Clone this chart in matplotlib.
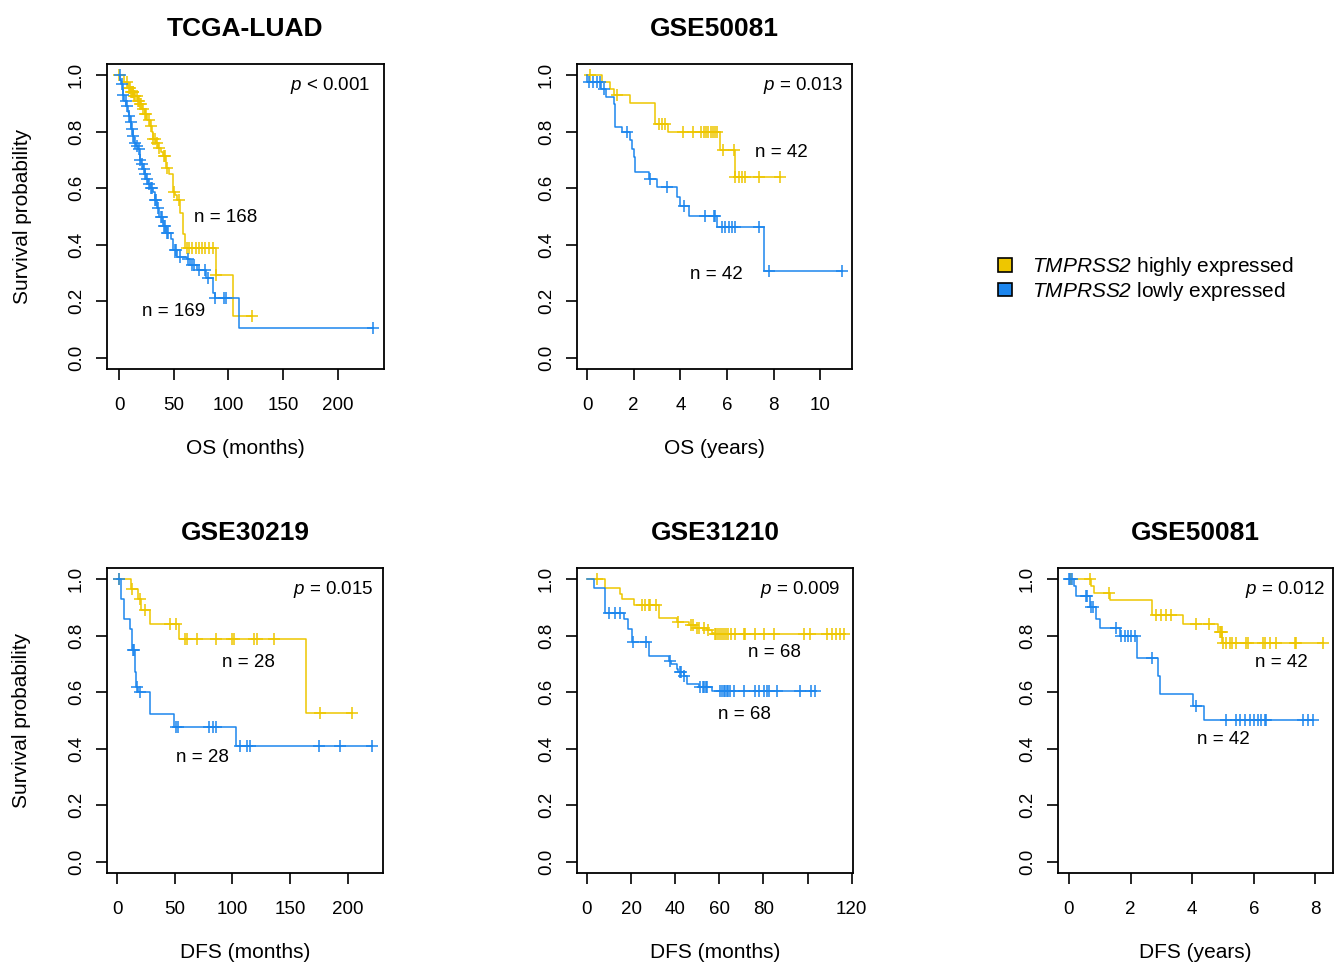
import numpy as np
import matplotlib.pyplot as plt
from matplotlib.patches import Patch

plt.rcParams["font.family"] = ["Liberation Sans", "DejaVu Sans"]
plt.rcParams["mathtext.fontset"] = "custom"
plt.rcParams["mathtext.it"] = "Liberation Sans:italic"
plt.rcParams["mathtext.rm"] = "Liberation Sans:italic"  # so the "2" in TMPRSS2 is italic too

HIGH = "#EEC600"
LOW = "#1C86EE"

# TCGA-LUAD, OS (months)
tcga_hi_t = [5, 8, 11, 14, 17, 19, 21, 23.5, 26, 28, 30, 31, 34, 36, 38, 40, 43, 46, 49, 51, 53,
             55.5, 58.5, 60, 88.4, 104]
tcga_hi_s = [0.975, 0.955, 0.94, 0.927, 0.91, 0.897, 0.88, 0.862, 0.84, 0.82, 0.80, 0.774, 0.76,
             0.744, 0.73, 0.715, 0.673, 0.65, 0.585, 0.575, 0.56, 0.514, 0.437, 0.39, 0.292, 0.149]
tcga_hi_c = [0, 7, 9, 10, 11, 12, 12.5, 13, 14, 15, 16, 17, 18, 19, 20, 22, 24, 25, 27, 29, 31.5,
             33, 35, 37, 41, 42, 44, 50, 55, 62, 64, 67, 70, 73, 76, 79, 82, 86, 89, 121.6]
tcga_lo_t = [1, 2, 3.7, 5, 6.7, 8, 9, 10, 11, 12.5, 14, 15.5, 17, 19, 20.5, 22, 23.5, 25, 26.5, 28,
             31, 32.6, 35, 37, 40, 43, 48, 49, 53, 62, 65, 71, 80, 86, 87.5, 110]
tcga_lo_s = [0.985, 0.97, 0.93, 0.91, 0.89, 0.87, 0.856, 0.835, 0.81, 0.785, 0.76, 0.75, 0.74, 0.70,
             0.685, 0.667, 0.65, 0.632, 0.615, 0.60, 0.585, 0.56, 0.53, 0.50, 0.467, 0.443, 0.42,
             0.38, 0.355, 0.35, 0.33, 0.31, 0.284, 0.23, 0.21, 0.106]
tcga_lo_c = [0.5, 2.5, 4, 6, 7.5, 9.5, 10.5, 12, 13, 15, 16, 18, 19.5, 21, 22.5, 24, 26, 27, 29, 30,
             33, 34, 36, 38, 39, 41, 42, 44, 45, 51, 52, 56, 63, 67, 69, 73, 79, 81, 88, 96, 98, 232]

# GSE50081, OS (years)
os50_hi_t = [0.64, 0.97, 1.14, 1.86, 2.9, 3.47, 5.71, 6.33]
os50_hi_s = [0.976, 0.953, 0.929, 0.902, 0.828, 0.80, 0.734, 0.641]
os50_hi_c = [0.14, 1.29, 3.07, 3.2, 3.36, 4.11, 4.54, 4.9, 5.0, 5.1, 5.2, 5.3, 5.4, 5.5, 5.57,
             5.81, 6.29, 6.36, 6.5, 6.64, 6.79, 7.36, 8.29]
os50_lo_t = [0.01, 0.61, 0.83, 1.14, 1.21, 1.5, 1.86, 1.93, 2.0, 2.07, 2.64, 3.0, 3.86, 4.0, 4.36,
             5.57, 7.6]
os50_lo_s = [0.976, 0.953, 0.924, 0.90, 0.817, 0.80, 0.77, 0.74, 0.71, 0.657, 0.633, 0.604, 0.568,
             0.538, 0.503, 0.462, 0.308]
os50_lo_c = [0.07, 0.26, 0.43, 0.57, 0.71, 1.71, 2.69, 3.43, 4.14, 5.07, 5.43, 5.5, 5.79, 5.93,
             6.07, 6.21, 6.36, 7.36, 7.81, 10.93]

# GSE30219, DFS (months)
g302_hi_t = [12, 18, 21, 28.3, 54, 164]
g302_hi_s = [0.964, 0.929, 0.89, 0.84, 0.789, 0.527]
g302_hi_c = [1.4, 13, 19.6, 24.6, 46, 51.4, 59, 61, 69, 86, 100, 101, 119, 121, 136, 176, 204]
g302_lo_t = [3.5, 6.4, 11.6, 13, 16, 16.8, 17.9, 28.3, 49.7, 103]
g302_lo_s = [0.931, 0.86, 0.825, 0.748, 0.671, 0.618, 0.60, 0.523, 0.476, 0.411]
g302_lo_c = [1.4, 13.5, 14.5, 17.3, 19.6, 51.4, 52.6, 80, 83, 86, 107, 113, 115.6, 175, 193, 221]

# GSE31210, DFS (months)
g312_hi_t = [8.3, 14.8, 15.9, 21.2, 32.5, 40.8, 46.1, 49, 54.4, 56.7, 57.4]
g312_hi_s = [0.969, 0.949, 0.931, 0.91, 0.863, 0.849, 0.837, 0.827, 0.819, 0.81, 0.805]
g312_hi_c = [4.5, 24.9, 26.5, 28, 28.7, 31.4, 41.1, 47, 48, 50, 51, 53, 54.9, 57.9, 58.5, 59.5,
             60.3, 61, 62, 63, 64, 65.5, 67, 71, 71.8, 76.3, 80.4, 85, 98.3, 101, 108.8, 111, 113,
             114.6, 116.4]
g312_lo_t = [3, 8.3, 17, 18.4, 20.4, 28, 37, 38, 40.8, 41.5, 43.8, 45.4, 50.6, 56.7]
g312_lo_s = [0.969, 0.882, 0.858, 0.825, 0.778, 0.73, 0.712, 0.70, 0.683, 0.671, 0.659, 0.63,
             0.618, 0.606]
g312_lo_c = [9.8, 12.8, 14.8, 20.9, 26.9, 37.5, 42, 42.8, 44, 51.4, 52.4, 53.2, 53.9, 54.4, 60.5,
             61.2, 62, 62.7, 63.4, 64, 65, 66.5, 71, 76.3, 77.9, 80.4, 81.6, 82.4, 86.2, 96.7,
             101.6, 103.6]

# GSE50081, DFS (years)
dfs50_hi_t = [0.73, 0.8, 1.32, 2.7, 3.7, 4.84, 4.98]
dfs50_hi_s = [0.976, 0.952, 0.928, 0.872, 0.843, 0.813, 0.774]
dfs50_hi_c = [0.08, 0.67, 1.3, 2.84, 3.0, 3.16, 3.32, 4.11, 4.55, 4.9, 4.93, 4.96, 5.0, 5.11, 5.22,
              5.3, 5.43, 5.76, 5.82, 6.3, 6.36, 6.54, 6.73, 7.33, 7.38, 8.25]
dfs50_lo_t = [0.15, 0.24, 0.67, 0.89, 1.02, 1.64, 2.21, 2.89, 2.94, 4.03, 4.37]
dfs50_lo_s = [0.976, 0.941, 0.902, 0.86, 0.827, 0.799, 0.721, 0.659, 0.594, 0.553, 0.503]
dfs50_lo_c = [0.0, 0.04, 0.09, 0.54, 0.57, 0.73, 0.78, 1.54, 1.70, 1.81, 1.92, 2.02, 2.13, 2.70,
              4.13, 5.09, 5.43, 5.54, 5.70, 5.87, 6.0, 6.13, 6.24, 6.35, 6.38, 7.6, 7.76, 7.92]

titles = ["TCGA-LUAD", "GSE50081", "GSE30219", "GSE31210", "GSE50081"]
xlabels = ["OS (months)", "OS (years)", "DFS (months)", "DFS (months)", "DFS (years)"]
pvals = ["< 0.001", "= 0.013", "= 0.015", "= 0.009", "= 0.012"]
n_hi = [168, 42, 28, 68, 42]
n_lo = [169, 42, 28, 68, 42]


def km(ax, t, s, cens, color):
    t = np.asarray(t, float)
    s = np.asarray(s, float)
    cens = np.asarray(cens, float)
    end = max(t.max(), cens.max())
    ax.step(np.r_[0, t, end], np.r_[1, s, s[-1]], where="post", color=color, lw=1.1)
    cy = np.r_[1, s][np.searchsorted(t, cens, side="right")]
    ax.plot(cens, cy, "+", color=color, ms=8, mew=1.1)


W, H = 1335, 969
fig = plt.figure(figsize=(W / 100, H / 100), dpi=100)

# (left, top, width, height) in pixels
boxes = [(107, 64, 277, 305), (577, 64, 275, 305), (107, 568, 276, 305),
         (577, 568, 276, 305), (1058, 568, 275, 305)]
xlims = [(-11, 242.4), (-0.43, 11.36), (-8.7, 230.6), (-4.5, 120.6), (-0.357, 8.57)]
xticks = [np.arange(0, 201, 50), np.arange(0, 11, 2), np.arange(0, 201, 50),
          np.arange(0, 121, 20), np.arange(0, 9, 2)]
hidden_tick = {3: 100}  # R drops the overlapping "100" label on GSE31210
p_inset = [14, 9, 10, 13, 8]  # px from the right edge of the box
series = [
    (tcga_hi_t, tcga_hi_s, tcga_hi_c, tcga_lo_t, tcga_lo_s, tcga_lo_c),
    (os50_hi_t, os50_hi_s, os50_hi_c, os50_lo_t, os50_lo_s, os50_lo_c),
    (g302_hi_t, g302_hi_s, g302_hi_c, g302_lo_t, g302_lo_s, g302_lo_c),
    (g312_hi_t, g312_hi_s, g312_hi_c, g312_lo_t, g312_lo_s, g312_lo_c),
    (dfs50_hi_t, dfs50_hi_s, dfs50_hi_c, dfs50_lo_t, dfs50_lo_s, dfs50_lo_c),
]
# label anchors (data coords) for the "n = " texts
n_hi_xy = [(97.5, 0.498), (8.33, 0.726), (114, 0.704), (85, 0.74), (6.88, 0.705)]
n_lo_xy = [(50, 0.165), (5.54, 0.293), (74, 0.368), (71.4, 0.52), (5.0, 0.432)]

for i in range(5):
    l, t, w, h = boxes[i]
    ax = fig.add_axes([l / W, 1 - (t + h) / H, w / W, h / H])
    hi_t, hi_s, hi_c, lo_t, lo_s, lo_c = series[i]
    km(ax, hi_t, hi_s, hi_c, HIGH)
    km(ax, lo_t, lo_s, lo_c, LOW)
    ax.set_xlim(*xlims[i])
    ax.set_ylim(-0.04, 1.04)
    ax.set_xticks(xticks[i])
    ax.set_xticklabels(["" if hidden_tick.get(i) == v else str(v) for v in xticks[i]])
    ax.set_yticks(np.linspace(0, 1, 6))
    ax.set_yticklabels([f"{v:.1f}" for v in np.linspace(0, 1, 6)], rotation=90, va="center")
    ax.tick_params(length=8, width=1.2, labelsize=13.5)
    ax.tick_params(axis="x", pad=12)
    ax.tick_params(axis="y", pad=8)
    for sp in ax.spines.values():
        sp.set_linewidth(1.3)
    ax.set_title(titles[i], fontsize=19, fontweight="bold", y=1 + 35 / h, va="center", pad=0)
    ax.set_xlabel(xlabels[i], fontsize=15)
    ax.xaxis.set_label_coords(0.5, -80 / h)
    ax.xaxis.label.set_va("center")
    if i in (0, 2):
        ax.set_ylabel("Survival probability", fontsize=15)
        ax.yaxis.set_label_coords(-85 / w, 0.5)
        ax.yaxis.label.set_va("center")
    ax.text(1 - p_inset[i] / w, 1 - 22 / h, r"$p$ " + pvals[i], transform=ax.transAxes,
            ha="right", va="center", fontsize=13.5)
    ax.text(*n_hi_xy[i], f"n = {n_hi[i]}", ha="center", va="center", fontsize=13.5)
    ax.text(*n_lo_xy[i], f"n = {n_lo[i]}", ha="center", va="center", fontsize=13.5)

handles = [Patch(facecolor=HIGH, edgecolor="black", lw=1.2),
           Patch(facecolor=LOW, edgecolor="black", lw=1.2)]
labels = [r"$TMPRSS2$ highly expressed", r"$TMPRSS2$ lowly expressed"]
fig.legend(handles, labels, loc="center left", bbox_to_anchor=(998 / W, 1 - 279 / H),
           frameon=False, fontsize=15, handlelength=0.65, handleheight=0.65,
           handletextpad=1.0, labelspacing=0.08, borderpad=0, borderaxespad=0)

fig.savefig("out.png", dpi=100)
